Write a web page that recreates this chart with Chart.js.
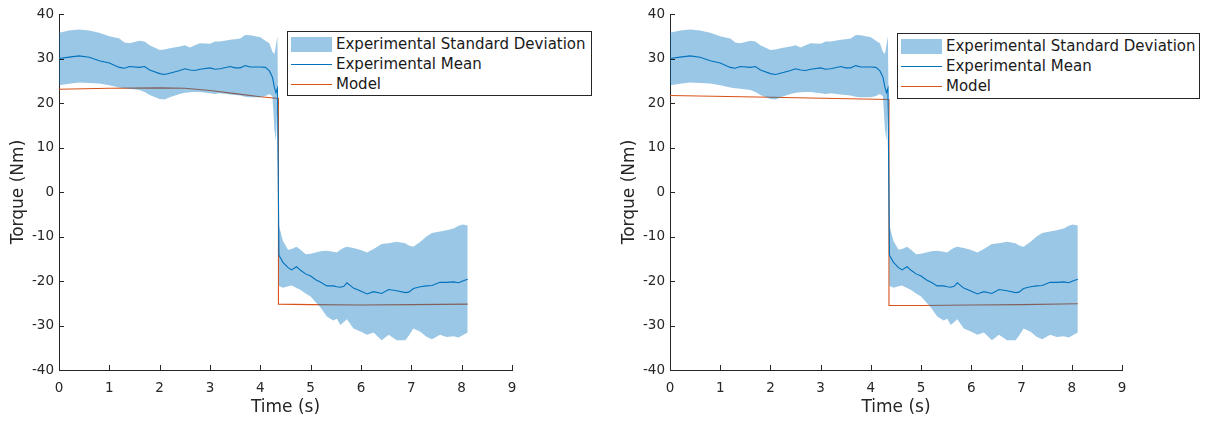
<!DOCTYPE html>
<html>
<head>
<meta charset="utf-8">
<script src="https://cdn.jsdelivr.net/npm/chart.js@4.4.0/dist/chart.umd.min.js"></script>
<style>
  body { margin: 0; width: 1210px; height: 422px; overflow: hidden; background: #fff; font-family: "DejaVu Sans", sans-serif; }
  canvas { position: absolute; top: 0; }
  .legend { position: absolute; border: 1px solid #262626; background: #fff; box-sizing: border-box; }
  .legend .swatch { position: absolute; left: 3px; width: 41px; }
  .legend .label { position: absolute; left: 48px; font-size: 15px; line-height: 18px; color: #1a1a1a; white-space: nowrap; }
</style>
</head>
<body>
<canvas id="torqueLeft" width="605" height="422" style="left:0"></canvas>
<canvas id="torqueRight" width="605" height="422" style="left:605px"></canvas>

<script>
// experimental data (same for both panels)
const bandTime = [0, 0.2, 0.4, 0.6, 0.8, 1.0, 1.2, 1.3, 1.4, 1.6, 1.7, 1.8, 2.0, 2.1, 2.2, 2.4, 2.5, 2.6, 2.7, 2.8,
  3.0, 3.1, 3.2, 3.4, 3.5, 3.6, 3.7, 3.8, 4.0, 4.1, 4.18, 4.24, 4.28, 4.31, 4.34,
  4.37, 4.45, 4.55, 4.62, 4.72, 4.8, 4.9, 5.0, 5.1, 5.2, 5.32, 5.45, 5.52, 5.59, 5.66, 5.72, 5.85, 5.98,
  6.12, 6.25, 6.41, 6.55, 6.71, 6.88, 6.95, 7.04, 7.18, 7.3, 7.41, 7.57, 7.7, 7.84, 7.94, 8.02, 8.12];
const meanTorque = [30.0, 30.3, 30.6, 30.3, 29.5, 29.0, 28.0, 27.8, 28.2, 28.0, 28.2, 27.4, 26.6, 26.4, 26.7, 27.3, 27.7, 27.4, 27.3, 27.6,
  27.9, 27.6, 27.7, 28.2, 27.9, 27.9, 28.4, 28.1, 28.1, 28.0, 27.2, 25.8, 23.5, 22.3, 23.3,
  -14.2, -15.8, -17.0, -17.5, -16.8, -17.6, -18.4, -18.9, -19.7, -20.3, -21.1, -21.1, -21.3, -21.4, -21.2, -20.4, -21.6, -22.2,
  -22.9, -22.4, -22.8, -21.9, -22.2, -22.6, -22.5, -21.7, -21.3, -21.1, -21.0, -20.3, -20.3, -20.2, -20.4, -20.0, -19.6];
const stdUpper = [35.8, 36.3, 36.5, 36.3, 35.8, 35.0, 34.5, 33.6, 33.4, 34.0, 33.8, 33.0, 31.9, 32.0, 32.3, 32.7, 33.0, 32.5, 33.0, 33.4,
  33.3, 33.8, 33.8, 34.2, 34.3, 34.5, 35.3, 35.2, 34.8, 34.0, 33.4, 31.5, 31.0, 33.0, 35.0,
  -7.6, -11.0, -13.0, -12.8, -12.3, -13.0, -14.0, -13.9, -13.6, -13.3, -13.2, -13.4, -13.6, -13.0, -12.5, -12.3, -12.6, -13.0,
  -13.6, -12.8, -11.7, -11.5, -11.2, -11.5, -12.0, -12.3, -11.2, -10.0, -9.2, -8.9, -8.6, -8.2, -7.6, -7.3, -7.5];
const stdLower = [24.0, 24.3, 24.6, 24.5, 24.4, 24.0, 23.5, 23.3, 23.2, 22.9, 22.5, 21.8, 20.9, 20.8, 21.3, 22.0, 22.3, 22.4, 22.5, 22.5,
  22.2, 22.0, 22.2, 21.9, 21.8, 21.7, 21.4, 21.3, 21.3, 21.6, 22.0, 21.5, 14.0, 11.5, 20.0,
  -21.1, -21.5, -21.2, -21.0, -21.6, -22.0, -22.8, -23.5, -24.8, -26.0, -28.0, -28.9, -28.5, -29.9, -29.2, -28.6, -30.7, -31.3,
  -32.1, -31.6, -33.3, -32.1, -33.3, -33.3, -32.3, -30.7, -31.4, -32.5, -33.1, -32.1, -32.6, -32.4, -32.7, -32.2, -31.6];

// model predictions
const modelTimeLeft = [0, 1, 2, 2.5, 3, 3.5, 4, 4.36, 4.36, 5, 6, 7, 8.12];
const modelTorqueLeft = [23.1, 23.3, 23.4, 23.3, 22.8, 22.1, 21.4, 21.0, -25.2, -25.3, -25.4, -25.3, -25.2];
const modelTimeRight = [0, 2, 4.36, 4.36, 5, 6, 7, 8.12];
const modelTorqueRight = [21.7, 21.3, 20.8, -25.5, -25.5, -25.4, -25.3, -25.1];

const timeTicks = [0, 1, 2, 3, 4, 5, 6, 7, 8, 9];
const torqueTicks = [-40, -30, -20, -10, 0, 10, 20, 30, 40];
const legendLabels = ["Experimental Standard Deviation", "Experimental Mean", "Model"];

const axisColor = "#262626";
const meanColor = "#0072BD";
const bandColor = "rgba(0,114,189,0.4)";
const modelColor = "#D95319";

function pts(xs, ys) {
    return xs.map(function (x, i) { return { x: x, y: ys[i] }; });
}

// matlab style ticks pointing into the plot
const inwardTicks = {
    id: "inwardTicks",
    afterDraw(chart) {
        const ctx = chart.ctx;
        const x = chart.scales.x, y = chart.scales.y;
        ctx.save();
        ctx.strokeStyle = axisColor;
        ctx.lineWidth = 1;
        ctx.beginPath();
        timeTicks.forEach(function (v) {
            const px = Math.round(x.getPixelForValue(v)) + 0.5;
            ctx.moveTo(px, y.bottom);
            ctx.lineTo(px, y.bottom - 5);
        });
        torqueTicks.forEach(function (v) {
            const py = Math.round(y.getPixelForValue(v)) + 0.5;
            ctx.moveTo(x.left, py);
            ctx.lineTo(x.left + 5, py);
        });
        ctx.stroke();
        ctx.restore();
    }
};

Chart.defaults.font.family = "'DejaVu Sans', sans-serif";
Chart.defaults.color = axisColor;

function makeChart(id, modelTime, modelTorque, yWidth, padRight) {
    new Chart(document.getElementById(id), {
        type: "line",
        data: {
            datasets: [
                { label: legendLabels[1], data: pts(bandTime, meanTorque), borderColor: meanColor, borderWidth: 1.1,
                  pointRadius: 0, fill: false, order: 0 },
                { label: legendLabels[0], data: pts(bandTime, stdUpper), borderWidth: 0, borderColor: "transparent",
                  backgroundColor: bandColor, pointRadius: 0, fill: "+1", order: 1 },
                { label: "lower", data: pts(bandTime, stdLower), borderWidth: 0, borderColor: "transparent",
                  pointRadius: 0, fill: false, order: 2 },
                { label: legendLabels[2], data: pts(modelTime, modelTorque), borderColor: modelColor, borderWidth: 1.1,
                  pointRadius: 0, fill: false, order: 3 }
            ]
        },
        options: {
            responsive: false,
            animation: false,
            devicePixelRatio: 1,
            layout: { padding: { left: 0, top: 14, right: padRight, bottom: 0 } },
            plugins: { legend: { display: false }, tooltip: { enabled: false } },
            scales: {
                x: {
                    type: "linear", min: 0, max: 9,
                    afterBuildTicks: function (s) { s.ticks = timeTicks.map(function (v) { return { value: v }; }); },
                    afterFit: function (s) { s.height = 52; },
                    grid: { display: false, drawTicks: false },
                    border: { display: true, color: axisColor, width: 1 },
                    ticks: { font: { size: 13.5 }, color: axisColor, padding: 10, maxRotation: 0, autoSkip: false },
                    title: { display: true, text: "Time (s)", font: { size: 17 }, color: axisColor, padding: { top: 0, bottom: 4 } }
                },
                y: {
                    type: "linear", min: -40, max: 40,
                    afterBuildTicks: function (s) { s.ticks = torqueTicks.map(function (v) { return { value: v }; }); },
                    afterFit: function (s) { s.width = yWidth; },
                    grid: { display: false, drawTicks: false },
                    border: { display: true, color: axisColor, width: 1 },
                    ticks: { font: { size: 13.5 }, color: axisColor, padding: 5, autoSkip: false },
                    title: { display: true, text: "Torque (Nm)", font: { size: 17 }, color: axisColor,
                             padding: { top: yWidth - 51, bottom: 0 } }
                }
            }
        },
        plugins: [inwardTicks]
    });
}

function makeLegend(left, top, width, height, step) {
    const box = document.createElement("div");
    box.className = "legend";
    box.style.left = left + "px";
    box.style.top = top + "px";
    box.style.width = width + "px";
    box.style.height = height + "px";
    const first = Math.round(height / 2 - step) - 1;
    legendLabels.forEach(function (text, i) {
        const cy = first + Math.round(i * step);
        const sw = document.createElement("div");
        sw.className = "swatch";
        if (i === 0) {
            sw.style.height = "15px"; sw.style.top = (cy - 7) + "px"; sw.style.background = bandColor;
        } else {
            sw.style.height = "1px"; sw.style.top = cy + "px";
            sw.style.background = i === 1 ? meanColor : modelColor;
        }
        const lb = document.createElement("div");
        lb.className = "label";
        lb.style.top = (cy - 9) + "px";
        lb.textContent = text;
        box.appendChild(sw);
        box.appendChild(lb);
    });
    document.body.appendChild(box);
}

makeChart("torqueLeft", modelTimeLeft, modelTorqueLeft, 59, 93);
makeChart("torqueRight", modelTimeRight, modelTorqueRight, 65, 88);
makeLegend(287, 31, 305, 65, 20);
makeLegend(897, 33, 303, 66, 20);
</script>
</body>
</html>
